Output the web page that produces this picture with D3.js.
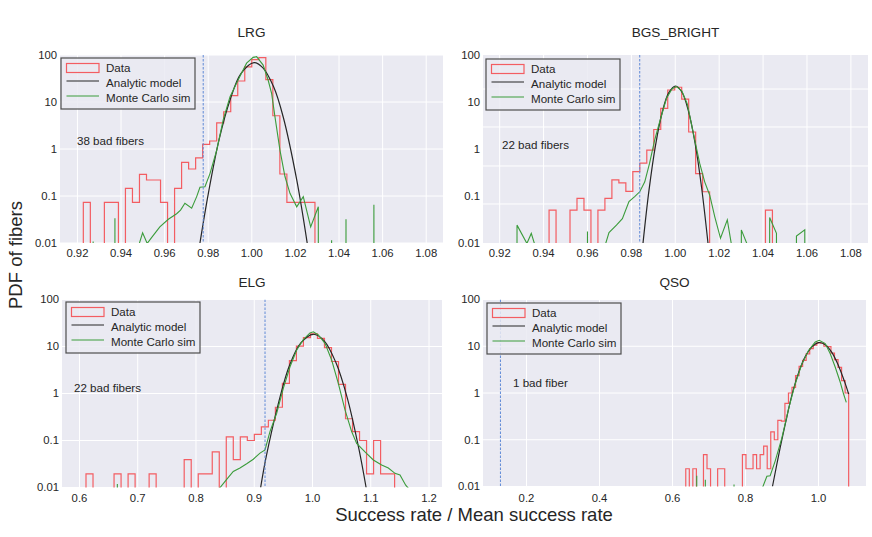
<!DOCTYPE html>
<html>
<head>
<meta charset="utf-8">
<script src="https://cdn.jsdelivr.net/npm/d3@7"></script>
<style>
  body { margin: 0; background: #fff; }
  text { font-family: "Liberation Sans", Arial, Helvetica, sans-serif; fill: #262626; }
</style>
</head>
<body>
<svg id="fig" width="872" height="537"></svg>
<script>
// ---- data ----
const panelNames = ["LRG", "BGS_BRIGHT", "ELG", "QSO"];
const badLabels = ["38 bad fibers", "22 bad fibers", "22 bad fibers", "1 bad fiber"];
const badCut = [0.9777, 0.9838, 0.9185, 0.1287];

// histogram bins: first edge and width per panel
const binStart = [0.9227, 0.9425, 0.6112, 0.6363];
const binWidth = [0.00322, 0.00318, 0.01204, 0.0097];

const lrgHist = [0.0735, 0, 0, 0.0735, 0.0735, 0, 0.146, 0.0735, 0.289, 0.219, 0.219, 0.0735, 0,
  0.146, 0.52, 0.375, 0.65, 1.26, 1.48, 3.6, 6.2, 13.6, 28, 56, 80, 88, 30, 5.1, 0.294,
  0.0735, 0.0735, 0.0735, 0.0735];
const bgsHist = [0.05, 0, 0, 0.05, 0.089, 0.05, 0, 0.05, 0.089, 0.22, 0.19, 0.126, 0.33, 0.5,
  0.95, 2.6, 7.3, 18, 20.6, 11.5, 2.3, 0.3, 0.123, 0, 0, 0, 0, 0, 0, 0, 0, 0.05];
const elgHist = [0.0195, 0, 0, 0, 0.0195, 0, 0.0195, 0, 0, 0.0195, 0, 0, 0, 0, 0.039, 0,
  0.0195, 0.0195, 0.057, 0, 0.12, 0.039, 0.12, 0.1, 0.135, 0.195, 0.27, 0.51, 1.65, 5.0,
  10.2, 15.4, 18.5, 14.9, 9.5, 4.8, 1.57, 0.29, 0.155, 0.1, 0.0195, 0.1, 0.0195, 0.0195];
const qsoHist = [0.024, 0, 0.024, 0, 0, 0.048, 0.024, 0, 0, 0.024, 0.024, 0, 0, 0, 0, 0,
  0.048, 0.024, 0.024, 0.048, 0.024, 0.048, 0.073, 0.024, 0.147, 0.1, 0.26, 0.25, 0.6, 1.0,
  1.32, 2.35, 3.7, 5.0, 6.9, 8.9, 10.5, 11.8, 11.6, 10, 9.8, 7.1, 5.2, 3.55, 1.84, 1.0];

// analytic model curves [x, pdf]
const lrgModel = [[0.9762, 0.01], [0.98, 0.11], [0.985, 1.6], [0.99, 11], [0.995, 40],
  [1.001, 69], [1.005, 54], [1.01, 21], [1.0144, 4.8], [1.0206, 0.22], [1.0254, 0.01]];
const bgsModel = [[0.9853, 0.01], [0.988, 0.13], [0.991, 1.2], [0.994, 5.9], [0.997, 15.6],
  [1.0001, 21.9], [1.003, 16.3], [1.006, 6.4], [1.009, 1.35], [1.012, 0.15], [1.0149, 0.01]];
const elgModel = [[0.911, 0.01], [0.92, 0.042], [0.94, 0.52], [0.96, 3.8], [0.98, 11.9],
  [1.0014, 18.2], [1.02, 13.2], [1.04, 4.6], [1.06, 0.78], [1.08, 0.063], [1.092, 0.01]];
const qsoModel = [[0.8738, 0.01], [0.8949, 0.068], [0.9133, 0.31], [0.927, 0.9], [0.9452, 2.7],
  [0.9636, 6.0], [0.9819, 9.7], [1.0, 12], [1.0184, 10.8], [1.0368, 7.3], [1.0549, 3.8],
  [1.0713, 1.75], [1.0825, 0.95]];

// Monte Carlo simulation curves [x, pdf], 0 = empty
const lrgSim = [[0.9262, 0], [0.9272, 0.0108], [0.9282, 0], [0.9362, 0], [0.9372, 0.0335],
  [0.9382, 0], [0.9474, 0], [0.9484, 0.0098], [0.9499, 0.0165], [0.952, 0.0098], [0.954, 0.013],
  [0.9578, 0.022], [0.9617, 0.032], [0.9655, 0.042], [0.9673, 0.05], [0.9693, 0.07],
  [0.9724, 0.055], [0.9747, 0.097], [0.9762, 0.153], [0.9785, 0.157], [0.9808, 0.3],
  [0.9839, 0.95], [0.9869, 4.2], [0.99, 13], [0.9945, 35], [0.9976, 67], [1.0006, 89],
  [1.0022, 92], [1.0052, 61], [1.0075, 29], [1.0091, 15], [1.0106, 4.9], [1.0129, 0.95],
  [1.0152, 0.26], [1.0175, 0.114], [1.0206, 0.059], [1.0236, 0.097], [1.027, 0.022],
  [1.0305, 0.059], [1.0313, 0], [1.0356, 0], [1.0366, 0.0115], [1.0376, 0], [1.0422, 0],
  [1.0432, 0.032], [1.0442, 0], [1.055, 0], [1.056, 0.065], [1.057, 0]];
const bgsSim = [[0.9269, 0], [0.9279, 0.024], [0.9324, 0.0098], [0.9344, 0.016], [0.9359, 0.0095],
  [0.9369, 0], [0.959, 0], [0.96, 0.0175], [0.961, 0], [0.9673, 0], [0.9683, 0.0098],
  [0.9698, 0.0166], [0.9732, 0.024], [0.9759, 0.033], [0.9789, 0.076], [0.9815, 0.097],
  [0.9838, 0.123], [0.9861, 0.2], [0.9883, 0.5], [0.9906, 1.55], [0.9929, 3.8], [0.996, 12],
  [0.9985, 19], [1.0005, 21.5], [1.003, 17], [1.0055, 9], [1.0081, 2.3], [1.0111, 0.5],
  [1.0134, 0.2], [1.0157, 0.104], [1.018, 0.036], [1.0206, 0.0126], [1.0237, 0.031],
  [1.0256, 0.0092], [1.0266, 0], [1.0291, 0], [1.0301, 0.019], [1.0327, 0.0095], [1.0337, 0],
  [1.042, 0], [1.043, 0.035], [1.0461, 0.016], [1.0471, 0], [1.0542, 0], [1.0552, 0.014],
  [1.059, 0.019], [1.06, 0]];
const elgSim = [[0.655, 0], [0.665, 0.0118], [0.675, 0], [0.84, 0.0095], [0.8527, 0.0149],
  [0.864, 0.022], [0.8755, 0.026], [0.887, 0.032], [0.8984, 0.04], [0.9099, 0.054],
  [0.9185, 0.063], [0.927, 0.155], [0.9385, 0.38], [0.9499, 1.29], [0.9614, 3.7],
  [0.9729, 8.4], [0.9843, 14], [0.9957, 19.5], [1.0014, 20.6], [1.01, 17.6], [1.0215, 11.7],
  [1.033, 5.1], [1.0443, 1.65], [1.0558, 0.45], [1.0672, 0.155], [1.0758, 0.087],
  [1.0901, 0.057], [1.1044, 0.0385], [1.1187, 0.03], [1.1302, 0.026], [1.1416, 0.02],
  [1.1502, 0.0185], [1.16, 0.0112], [1.165, 0.0095]];
const qsoSim = [[0.6654, 0], [0.6664, 0.017], [0.6674, 0], [0.6869, 0], [0.6899, 0.014],
  [0.6929, 0], [0.7675, 0], [0.7685, 0.011], [0.7695, 0], [0.8463, 0], [0.8473, 0.0098],
  [0.8585, 0.0166], [0.8675, 0.017], [0.8812, 0.035], [0.8996, 0.11], [0.9177, 0.45],
  [0.936, 1.56], [0.9544, 4.2], [0.9726, 8.1], [0.991, 12.3], [1.0019, 13.4], [1.0184, 11.4],
  [1.0321, 6.9], [1.0458, 3.55], [1.0595, 1.7], [1.0686, 0.95], [1.076, 0.63]];

// axes
const xTicksNarrow = [0.92, 0.94, 0.96, 0.98, 1.00, 1.02, 1.04, 1.06, 1.08];
const xTicksElg = [0.6, 0.7, 0.8, 0.9, 1.0, 1.1, 1.2];
const xTicksQso = [0.2, 0.4, 0.6, 0.8, 1.0];
const yTicks = [0.01, 0.1, 1, 10, 100];
const yTickLabels = ["0.01", "0.1", "1", "10", "100"];
const bgsGrid = [18.9, 2.94, 0.435, 0.0676];   // that panel's grid is off the decades
const legendLabels = ["Data", "Analytic model", "Monte Carlo sim"];

// ---- layout ----
const panels = [
  { i: 0, hist: lrgHist, model: lrgModel, sim: lrgSim, box: [60, 55, 443, 243], xdom: [0.912, 1.0877],
    ticks: xTicksNarrow, fmt: ".2f", grid: yTicks, leg: [61, 58], note: [77, 145] },
  { i: 1, hist: bgsHist, model: bgsModel, sim: bgsSim, box: [483, 55, 868, 243], xdom: [0.9124, 1.0878],
    ticks: xTicksNarrow, fmt: ".2f", grid: bgsGrid, leg: [486, 59], note: [502, 149] },
  { i: 2, hist: elgHist, model: elgModel, sim: elgSim, box: [62, 299.5, 442, 487.5], xdom: [0.570, 1.2223],
    ticks: xTicksElg, fmt: ".1f", grid: yTicks, leg: [66, 302], note: [74, 392] },
  { i: 3, hist: qsoHist, model: qsoModel, sim: qsoSim, box: [483, 299.5, 866, 486.5], xdom: [0.0809, 1.130],
    ticks: xTicksQso, fmt: ".1f", grid: yTicks, leg: [487, 303], note: [513, 386.5] }
];

const colRed = "#f35d62", colBlack = "#262626", colGreen = "#3b9c3b", colCut = "#5f8ad6";

const svg = d3.select("#fig");

panels.forEach(p => {
  let [x0, y0, x1, y1] = p.box;
  let x = d3.scaleLinear().domain(p.xdom).range([x0, x1]);
  let y = d3.scaleLog().domain([0.01, 100]).range([y1, y0]);
  // empty bins fall far below the axis, like a clipped log plot
  let yv = v => v > 0 ? y(v) : y1 + 5000;

  let g = svg.append("g").attr("id", "panel" + p.i);

  g.append("clipPath").attr("id", "clip" + p.i)
    .append("rect").attr("x", x0).attr("y", y0).attr("width", x1 - x0).attr("height", y1 - y0);

  g.append("rect").attr("x", x0).attr("y", y0).attr("width", x1 - x0).attr("height", y1 - y0)
    .attr("fill", "#eaeaf2");

  // grid
  g.append("g").selectAll("line").data(p.ticks).join("line")
    .attr("x1", d => x(d)).attr("x2", d => x(d)).attr("y1", y0).attr("y2", y1)
    .attr("stroke", "#fff").attr("stroke-width", 1);
  g.append("g").selectAll("line").data(p.grid).join("line")
    .attr("x1", x0).attr("x2", x1).attr("y1", d => y(d)).attr("y2", d => y(d))
    .attr("stroke", "#fff").attr("stroke-width", 1);

  // tick labels
  g.append("g").selectAll("text").data(p.ticks).join("text")
    .attr("x", d => x(d)).attr("y", p.i < 2 ? 257 : 502)
    .attr("text-anchor", "middle").attr("font-size", 11.3)
    .text(d => d3.format(p.fmt)(d));
  g.append("g").selectAll("text").data(yTicks).join("text")
    .attr("x", x0 - 3).attr("y", d => y(d)).attr("dy", "0.35em")
    .attr("text-anchor", "end").attr("font-size", 11.3)
    .text((d, k) => yTickLabels[k]);

  // title
  g.append("text").attr("x", (x0 + x1) / 2).attr("y", p.i < 2 ? 37 : 287)
    .attr("text-anchor", "middle").attr("font-size", 13.6).text(panelNames[p.i]);

  let plot = g.append("g").attr("clip-path", "url(#clip" + p.i + ")");

  // data histogram as a step outline
  let w = binWidth[p.i], s = binStart[p.i];
  let steps = [[s, 0]];
  p.hist.forEach((h, k) => { steps.push([s + k * w, h], [s + (k + 1) * w, h]); });
  steps.push([s + p.hist.length * w, 0]);
  plot.append("path")
    .attr("d", d3.line().x(d => x(d[0])).y(d => yv(d[1]))(steps))
    .attr("fill", "none").attr("stroke", colRed).attr("stroke-width", 1.2);

  plot.append("path")
    .attr("d", d3.line().x(d => x(d[0])).y(d => yv(d[1])).curve(d3.curveCatmullRom)(p.model))
    .attr("fill", "none").attr("stroke", colBlack).attr("stroke-width", 1.2);

  plot.append("path")
    .attr("d", d3.line().x(d => x(d[0])).y(d => yv(d[1]))(p.sim))
    .attr("fill", "none").attr("stroke", colGreen).attr("stroke-width", 1.1);

  plot.append("line")
    .attr("x1", x(badCut[p.i])).attr("x2", x(badCut[p.i])).attr("y1", y0).attr("y2", y1)
    .attr("stroke", colCut).attr("stroke-width", 1).attr("stroke-dasharray", "2.5,1.5");

  g.append("text").attr("x", p.note[0]).attr("y", p.note[1])
    .attr("font-size", 11.6).text(badLabels[p.i]);

  // legend
  let [lx, ly] = p.leg;
  let leg = g.append("g").attr("transform", `translate(${lx},${ly})`);
  leg.append("rect").attr("width", 134).attr("height", 51)
    .attr("fill", "#eaeaf2").attr("fill-opacity", 0.85)
    .attr("stroke", "#4d4d4d").attr("stroke-width", 1.2);
  let rows = [10, 24.5, 39.5];
  leg.append("rect").attr("x", 5.5).attr("y", rows[0] - 4.5).attr("width", 32.5).attr("height", 9)
    .attr("fill", "none").attr("stroke", colRed).attr("stroke-width", 1.2);
  leg.append("line").attr("x1", 5.5).attr("x2", 38).attr("y1", rows[1] - 1.5).attr("y2", rows[1] - 1.5)
    .attr("stroke", colBlack).attr("stroke-width", 1.2);
  leg.append("line").attr("x1", 5.5).attr("x2", 38).attr("y1", rows[2] - 1.5).attr("y2", rows[2] - 1.5)
    .attr("stroke", colGreen).attr("stroke-width", 1.2);
  leg.selectAll("text.lab").data(legendLabels).join("text").attr("class", "lab")
    .attr("x", 45).attr("y", (d, k) => rows[k]).attr("dy", "0.38em")
    .attr("font-size", 11.6).text(d => d);
});

// shared axis labels
svg.append("text").attr("transform", "translate(22,255) rotate(-90)")
  .attr("text-anchor", "middle").attr("font-size", 18.5).text("PDF of fibers");
svg.append("text").attr("x", 474).attr("y", 521)
  .attr("text-anchor", "middle").attr("font-size", 18.5).text("Success rate / Mean success rate");
</script>
</body>
</html>
